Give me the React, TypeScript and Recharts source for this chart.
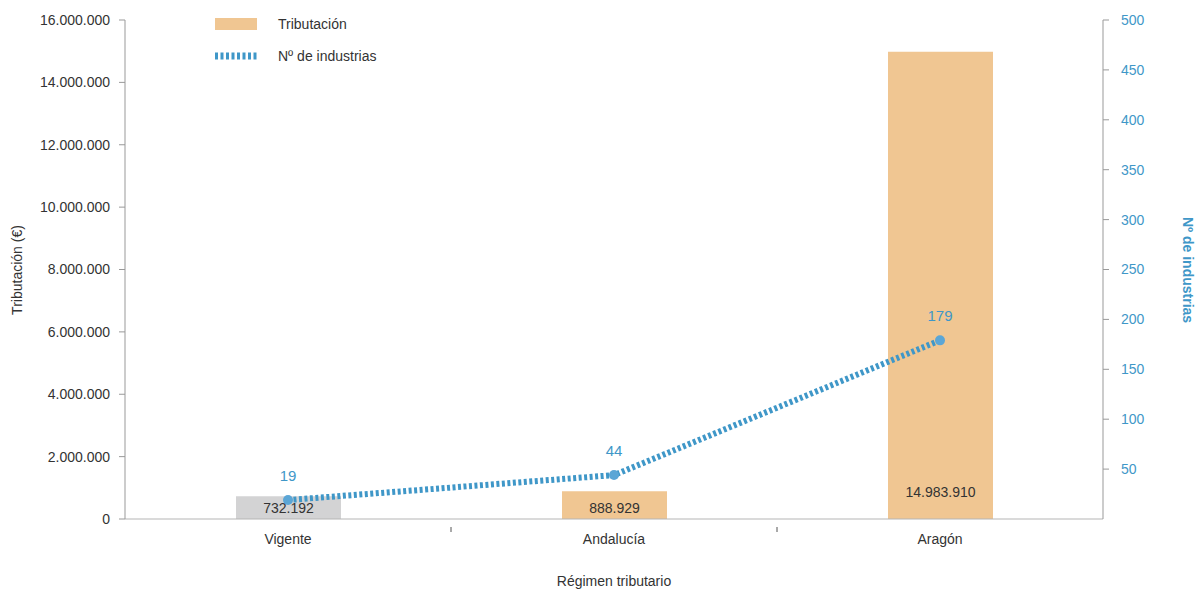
import { Bar, Cell, ComposedChart, LabelList, Line, XAxis, YAxis } from 'recharts';

const regimes = ['Vigente', 'Andalucía', 'Aragón'];
const taxes = [732192, 888929, 14983910];
const industries = [19, 44, 179];
const taxTicks = [0, 2000000, 4000000, 6000000, 8000000, 10000000, 12000000, 14000000, 16000000];
const industryTicks = [50, 100, 150, 200, 250, 300, 350, 400, 450, 500];
const barColors = ['#d3d3d4', '#f0c692', '#f0c692'];

const WIDTH = 1198;
const HEIGHT = 592;
const LEFT_AXIS = 125;
const RIGHT_AXIS = 95;
const X_AXIS = 73;
const TOP = 20;

const BLUE = '#3f97c8';
const DOT = '#5ba6d6';
const TEXT = '#333333';
const FONT = '"Liberation Sans", Arial, Helvetica, sans-serif';

const data = regimes.map((name, i) => ({ name, tributacion: taxes[i], industrias: industries[i] }));

const fmt = (v: number) => String(Math.round(v)).replace(/\B(?=(\d{3})+(?!\d))/g, '.');

const bandWidth = (WIDTH - LEFT_AXIS - RIGHT_AXIS) / regimes.length;

function CategoryTick(props: any) {
  const { x, y, payload, index } = props;
  return (
    <g>
      {index > 0 && <line x1={x - bandWidth / 2} x2={x - bandWidth / 2} y1={y} y2={y + 5} stroke="#555" />}
      <text x={x} y={y + 17} textAnchor="middle" fill={TEXT} fontSize={14} fontFamily={FONT}>
        {payload.value}
      </text>
    </g>
  );
}

function TaxLabel(props: any) {
  const { x, y, width, height, value } = props;
  const bottom = y + height;
  const cy = height > 100 ? bottom - 27 : bottom - 11;
  return (
    <text x={x + width / 2} y={cy} dy={5} textAnchor="middle" fill={TEXT} fontSize={14} fontFamily={FONT}>
      {fmt(value)}
    </text>
  );
}

// legend sits over the plot, top-left
function LegendBox() {
  return (
    <div style={{ position: 'absolute', left: 215, top: 14, fontFamily: FONT, fontSize: 14, color: TEXT }}>
      <div style={{ display: 'flex', alignItems: 'center', height: 20 }}>
        <div style={{ width: 42, height: 12, background: '#f0c692' }} />
        <span style={{ marginLeft: 21 }}>Tributación</span>
      </div>
      <div style={{ display: 'flex', alignItems: 'center', height: 20, marginTop: 12 }}>
        <svg width={42} height={8}>
          <line x1={0} x2={42} y1={4} y2={4} stroke={BLUE} strokeWidth={7} strokeDasharray="3 2.5" />
        </svg>
        <span style={{ marginLeft: 21 }}>Nº de industrias</span>
      </div>
    </div>
  );
}

export default function App() {
  return (
    <div style={{ position: 'absolute', left: 0, top: 0, width: WIDTH, height: HEIGHT, background: '#fff' }}>
      <ComposedChart width={WIDTH} height={HEIGHT} data={data} margin={{ top: TOP, right: 0, left: 0, bottom: 0 }}>
        <XAxis
          dataKey="name"
          height={X_AXIS}
          stroke="#b5b5b5"
          tickLine={false}
          tick={<CategoryTick />}
          interval={0}
          label={{
            content: () => (
              <text x={614} y={586} textAnchor="middle" fill={TEXT} fontSize={14} fontFamily={FONT}>
                Régimen tributario
              </text>
            ),
          }}
        />
        <YAxis
          yAxisId="left"
          width={LEFT_AXIS}
          domain={[0, 16000000]}
          ticks={taxTicks}
          tickFormatter={fmt}
          stroke="#999"
          tickSize={6}
          tickMargin={9}
          tick={{ fill: TEXT, fontSize: 14, fontFamily: FONT }}
          label={{
            content: () => (
              <text x={22} y={270} transform="rotate(-90 22 270)" textAnchor="middle" fill={TEXT} fontSize={14} fontFamily={FONT}>
                Tributación (€)
              </text>
            ),
          }}
        />
        <YAxis
          yAxisId="right"
          orientation="right"
          width={RIGHT_AXIS}
          domain={[0, 500]}
          ticks={industryTicks}
          stroke="#999"
          tickSize={6}
          tickMargin={12}
          tick={{ fill: BLUE, fontSize: 14, fontFamily: FONT }}
          label={{
            content: () => (
              <text x={1183} y={270} transform="rotate(90 1183 270)" textAnchor="middle" fill={BLUE} fontSize={14} fontWeight="bold" fontFamily={FONT}>
                Nº de industrias
              </text>
            ),
          }}
        />
        <Bar yAxisId="left" dataKey="tributacion" barSize={105} isAnimationActive={false}>
          {data.map((d, i) => (
            <Cell key={d.name} fill={barColors[i]} />
          ))}
          <LabelList dataKey="tributacion" content={<TaxLabel />} />
        </Bar>
        <Line
          yAxisId="right"
          dataKey="industrias"
          type="linear"
          stroke={BLUE}
          strokeWidth={6}
          strokeDasharray="3 2.5"
          dot={{ r: 5, fill: DOT, stroke: 'none', strokeDasharray: '' }}
          activeDot={false}
          isAnimationActive={false}
        >
          <LabelList dataKey="industrias" position="top" offset={19} fill={BLUE} fontSize={15} fontFamily={FONT} />
        </Line>
      </ComposedChart>
      <LegendBox />
    </div>
  );
}
